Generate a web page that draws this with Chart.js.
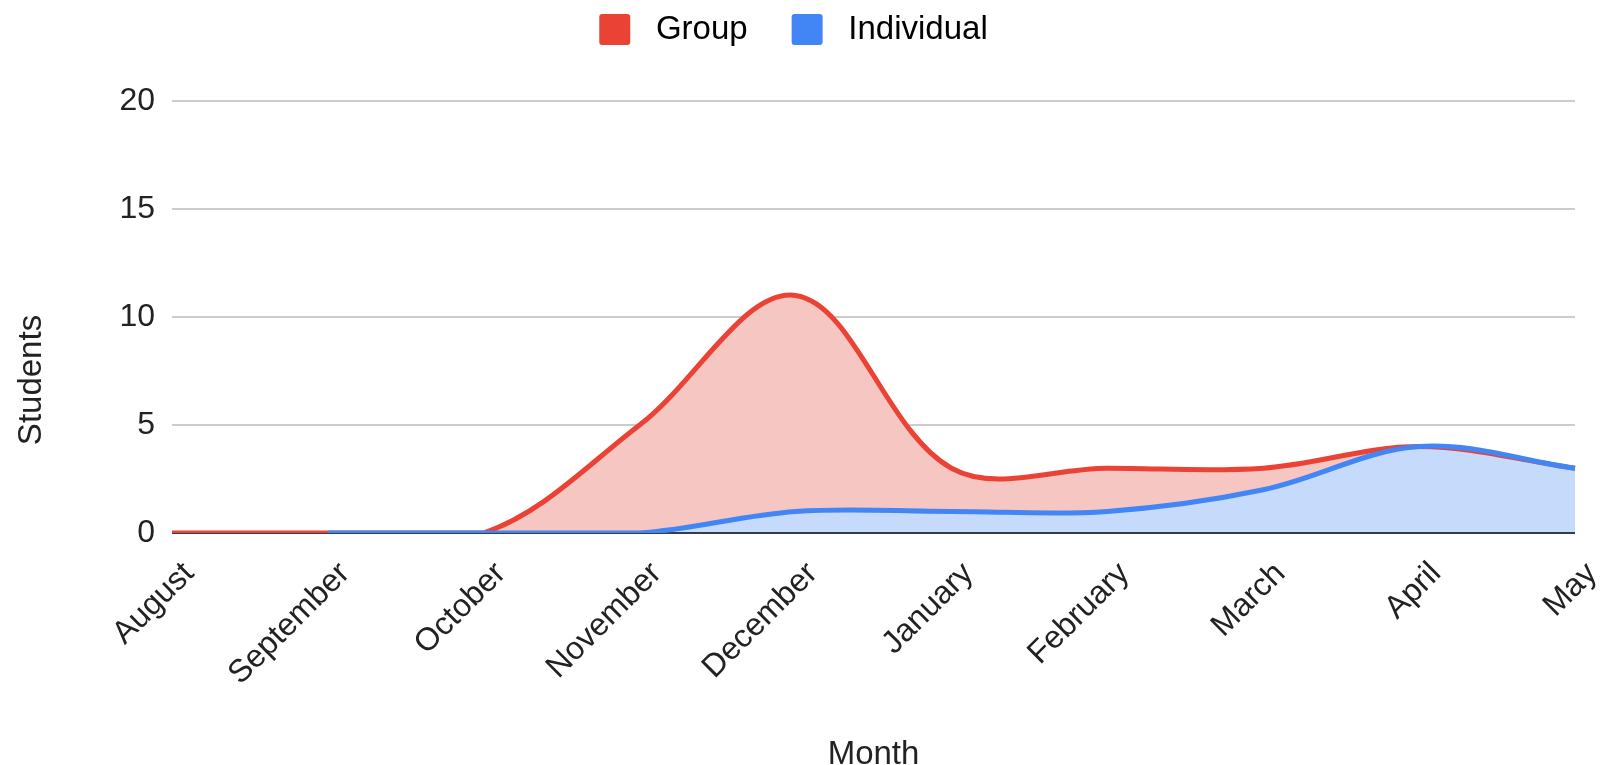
<!DOCTYPE html>
<html>
<head>
<meta charset="utf-8">
<script src="https://cdn.jsdelivr.net/npm/chart.js@4.4.1/dist/chart.umd.min.js"></script>
<style>
  html, body { margin: 0; padding: 0; background: #fff; }
  #wrap { width: 1608px; height: 765px; }
</style>
</head>
<body>
<div id="wrap"><canvas id="students-chart" width="1608" height="765"></canvas></div>
<script>
const months = ['August', 'September', 'October', 'November', 'December', 'January', 'February', 'March', 'April', 'May'];
const groupStudents = [0, 0, 0, 5, 11, 3, 3, 3, 4, 3];
const individualStudents = [null, 0, 0, 0, 1, 1, 1, 2, 4, 3];
const yTicks = [0, 5, 10, 15, 20];

const FONT = "'Liberation Sans', Arial, sans-serif";

// legend spacing + custom y title + dark baseline over the fills
const layoutPlugin = {
    id: 'layoutTweaks',
    beforeInit(chart) {
        const fit = chart.legend.fit;
        chart.legend.fit = function () {
            fit.bind(chart.legend)();
            this.height = 132;
        };
    },
    beforeDatasetsDraw(chart) {
        const { ctx, chartArea, scales } = chart;
        const y0 = scales.y.getPixelForValue(0);
        ctx.save();
        ctx.strokeStyle = '#333d47';
        ctx.lineWidth = 2;
        ctx.beginPath();
        ctx.moveTo(chartArea.left, y0);
        ctx.lineTo(chartArea.right, y0);
        ctx.stroke();
        ctx.restore();
    },
    afterDraw(chart) {
        const ctx = chart.ctx;
        ctx.save();
        ctx.translate(32, 380);
        ctx.rotate(-Math.PI / 2);
        ctx.font = '33px ' + FONT;
        ctx.fillStyle = '#222';
        ctx.textAlign = 'center';
        ctx.textBaseline = 'middle';
        ctx.fillText('Students', 0, 0);
        ctx.restore();
    }
};

const ctx = document.getElementById('students-chart').getContext('2d');

const myChart = new Chart(ctx, {
    type: 'line',
    data: {
        labels: months,
        datasets: [
            {
                label: 'Group',
                data: groupStudents,
                borderColor: '#ea4335',
                backgroundColor: '#f6c6c2',
                borderWidth: 5,
                fill: 'origin',
                order: 1,
                tension: 0.35,
                pointRadius: 0
            },
            {
                label: 'Individual',
                data: individualStudents,
                borderColor: '#4285f4',
                backgroundColor: '#c6dafc',
                borderWidth: 5,
                fill: 'origin',
                order: 0,
                tension: 0.35,
                pointRadius: 0
            }
        ]
    },
    options: {
        responsive: false,
        animation: false,
        layout: { padding: { top: -31, left: 12, right: 33, bottom: -6 } },
        plugins: {
            filler: { drawTime: 'beforeDatasetsDraw' },
            tooltip: { enabled: false },
            legend: {
                position: 'top',
                labels: {
                    boxWidth: 31,
                    boxHeight: 31,
                    padding: 44,
                    color: '#222',
                    font: { family: FONT, size: 33 },
                    sort: (a, b) => a.datasetIndex - b.datasetIndex,
                    generateLabels(chart) {
                        return chart.data.datasets.map((ds, i) => ({
                            text: ' ' + ds.label,
                            fillStyle: ds.borderColor,
                            strokeStyle: ds.borderColor,
                            lineWidth: 0,
                            borderRadius: 3,
                            datasetIndex: i,
                            hidden: false
                        }));
                    }
                }
            }
        },
        scales: {
            x: {
                grid: { display: false, drawTicks: false },
                border: { display: false },
                ticks: {
                    autoSkip: false,
                    minRotation: 45,
                    maxRotation: 45,
                    padding: 22,
                    labelOffset: 17,
                    color: '#222',
                    font: { family: FONT, size: 32 }
                },
                title: {
                    display: true,
                    text: 'Month',
                    color: '#222',
                    padding: { top: 0, bottom: 0 },
                    font: { family: FONT, size: 33, lineHeight: 1 }
                },
                afterFit(scale) {
                    scale.height = 238;
                    scale.paddingLeft = 0;
                    scale.paddingRight = 0;
                }
            },
            y: {
                min: 0,
                max: 20,
                afterBuildTicks(scale) { scale.ticks = yTicks.map(v => ({ value: v })); },
                grid: {
                    drawTicks: false,
                    color: '#cccccc',
                    lineWidth: 2
                },
                border: { display: false },
                ticks: {
                    padding: 17,
                    color: '#222',
                    font: { family: FONT, size: 32 }
                },
                afterFit(scale) { scale.width = 160; }
            }
        }
    },
    plugins: [layoutPlugin]
});
</script>
</body>
</html>
